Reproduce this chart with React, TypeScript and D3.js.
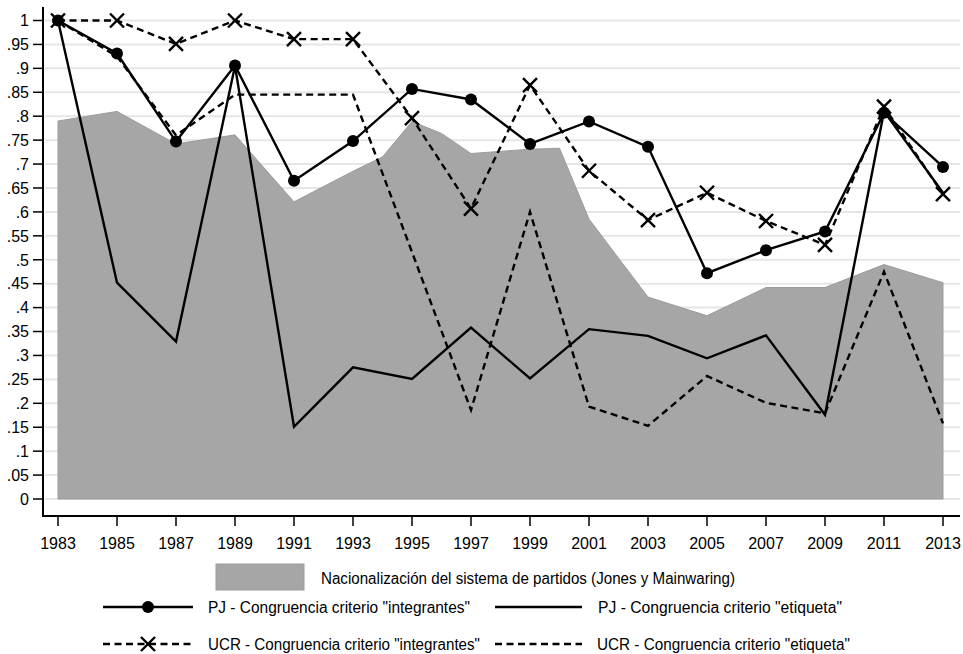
import React from 'react'
import * as d3 from 'd3'

// years for the four congruence series
const years = [1983, 1985, 1987, 1989, 1991, 1993, 1995, 1997, 1999, 2001, 2003, 2005, 2007, 2009, 2011, 2013]

// nationalization index (area) has a few extra in-between points
const areaYears = [1983, 1985, 1987, 1989, 1991, 1993, 1994, 1995, 1996, 1997, 1999, 2000, 2001, 2003, 2005, 2007, 2009, 2011, 2013]
const nacionalizacion = [0.79, 0.81, 0.742, 0.761, 0.621, 0.685, 0.715, 0.789, 0.764, 0.722, 0.731, 0.733, 0.585, 0.422, 0.383, 0.442, 0.442, 0.49, 0.452]

const pjIntegrantes = [1.0, 0.931, 0.747, 0.906, 0.665, 0.748, 0.857, 0.835, 0.742, 0.789, 0.736, 0.472, 0.52, 0.559, 0.807, 0.694]
const pjEtiqueta = [1.0, 0.452, 0.329, 0.905, 0.151, 0.275, 0.251, 0.358, 0.252, 0.355, 0.341, 0.294, 0.342, 0.176, 0.81, 0.64]
const ucrIntegrantes = [1.0, 1.0, 0.951, 1.0, 0.961, 0.961, 0.796, 0.607, 0.865, 0.686, 0.583, 0.64, 0.581, 0.531, 0.82, 0.637]
const ucrEtiqueta = [1.0, 0.925, 0.76, 0.845, 0.845, 0.845, 0.516, 0.186, 0.6, 0.193, 0.153, 0.257, 0.201, 0.179, 0.475, 0.158]

const yTicks = d3.range(0, 21).map(i => i * 0.05)
const fmtY = (v: number) => {
  if (v === 0) return '0'
  if (v >= 0.999) return '1'
  return d3.format('.2~f')(v).replace(/^0/, '')
}

const FONT = '"Liberation Sans Narrow", "Arial Narrow", "Liberation Sans", Arial, sans-serif'

export default function App() {
  const width = 963, height = 654
  const x = d3.scaleLinear().domain([1983, 2013]).range([58, 943])
  const y = d3.scaleLinear().domain([0, 1]).range([499, 20.5])
  const axisX = 43, axisY = 516, rightEdge = 960

  const area = d3.area<number>()
    .x((_, i) => x(areaYears[i]))
    .y0(y(0))
    .y1(d => y(d))
  const line = d3.line<number>()
    .x((_, i) => x(years[i]))
    .y(d => y(d))

  const dash = '7,4.5'

  return (
    <svg width={width} height={height} style={{ position: 'absolute', left: 0, top: 0, background: '#fff' }}
      fontFamily={FONT}>
      {/* grid */}
      {yTicks.map((t, i) => (
        <line key={'g' + i} x1={axisX + 2} x2={rightEdge} y1={y(t)} y2={y(t)} stroke="#e6e6e6" strokeWidth={2} />
      ))}
      <path d={area(nacionalizacion) || ''} fill="#a6a6a6" stroke="#9c9c9c" strokeWidth={1} />

      <path d={line(ucrEtiqueta) || ''} fill="none" stroke="#000" strokeWidth={2.4} strokeDasharray={dash} />
      <path d={line(pjEtiqueta) || ''} fill="none" stroke="#000" strokeWidth={2.4} />
      <path d={line(ucrIntegrantes) || ''} fill="none" stroke="#000" strokeWidth={2.4} strokeDasharray={dash} />
      <path d={line(pjIntegrantes) || ''} fill="none" stroke="#000" strokeWidth={2.4} />
      {ucrIntegrantes.map((v, i) => (
        <path key={'x' + i} d={`M${x(years[i]) - 7},${y(v) - 7}L${x(years[i]) + 7},${y(v) + 7}M${x(years[i]) - 7},${y(v) + 7}L${x(years[i]) + 7},${y(v) - 7}`}
          stroke="#000" strokeWidth={2.4} />
      ))}
      {pjIntegrantes.map((v, i) => (
        <circle key={'c' + i} cx={x(years[i])} cy={y(v)} r={6} fill="#000" />
      ))}

      {/* axes */}
      <line x1={axisX} x2={axisX} y1={7} y2={axisY + 1} stroke="#000" strokeWidth={2} />
      <line x1={axisX - 1} x2={rightEdge} y1={axisY} y2={axisY} stroke="#000" strokeWidth={2} />
      {yTicks.map((t, i) => (
        <g key={'yt' + i}>
          <line x1={axisX - 10} x2={axisX} y1={y(t)} y2={y(t)} stroke="#000" strokeWidth={1.5} />
          <text x={29} y={y(t)} dy="0.36em" textAnchor="end" fontSize={16}>{fmtY(t)}</text>
        </g>
      ))}
      {years.map((yr, i) => (
        <g key={'xt' + i}>
          <line x1={x(yr)} x2={x(yr)} y1={axisY} y2={axisY + 10} stroke="#000" strokeWidth={1.5} />
          <text x={x(yr)} y={549} textAnchor="middle" fontSize={16}>{yr}</text>
        </g>
      ))}

      {/* legend */}
      <rect x={216} y={564} width={88} height={26} fill="#a6a6a6" stroke="#9c9c9c" />
      <text x={321} y={578} dy="0.36em" fontSize={16} textLength={414} lengthAdjust="spacingAndGlyphs">Nacionalización del sistema de partidos (Jones y Mainwaring)</text>

      <line x1={103} x2={193} y1={607} y2={607} stroke="#000" strokeWidth={2.4} />
      <circle cx={148} cy={607} r={6} fill="#000" />
      <text x={208} y={607} dy="0.36em" fontSize={16} textLength={262} lengthAdjust="spacingAndGlyphs">PJ - Congruencia criterio "integrantes"</text>

      <line x1={495} x2={582} y1={607} y2={607} stroke="#000" strokeWidth={2.4} />
      <text x={598} y={607} dy="0.36em" fontSize={16} textLength={244} lengthAdjust="spacingAndGlyphs">PJ - Congruencia criterio "etiqueta"</text>

      <line x1={103} x2={193} y1={644} y2={644} stroke="#000" strokeWidth={2.4} strokeDasharray={dash} />
      <path d="M141,637L155,651M141,651L155,637" stroke="#000" strokeWidth={2.4} />
      <text x={208} y={644} dy="0.36em" fontSize={16} textLength={272} lengthAdjust="spacingAndGlyphs">UCR - Congruencia criterio "integrantes"</text>

      <line x1={495} x2={582} y1={644} y2={644} stroke="#000" strokeWidth={2.4} strokeDasharray={dash} />
      <text x={597} y={644} dy="0.36em" fontSize={16} textLength={253} lengthAdjust="spacingAndGlyphs">UCR - Congruencia criterio "etiqueta"</text>
    </svg>
  )
}
